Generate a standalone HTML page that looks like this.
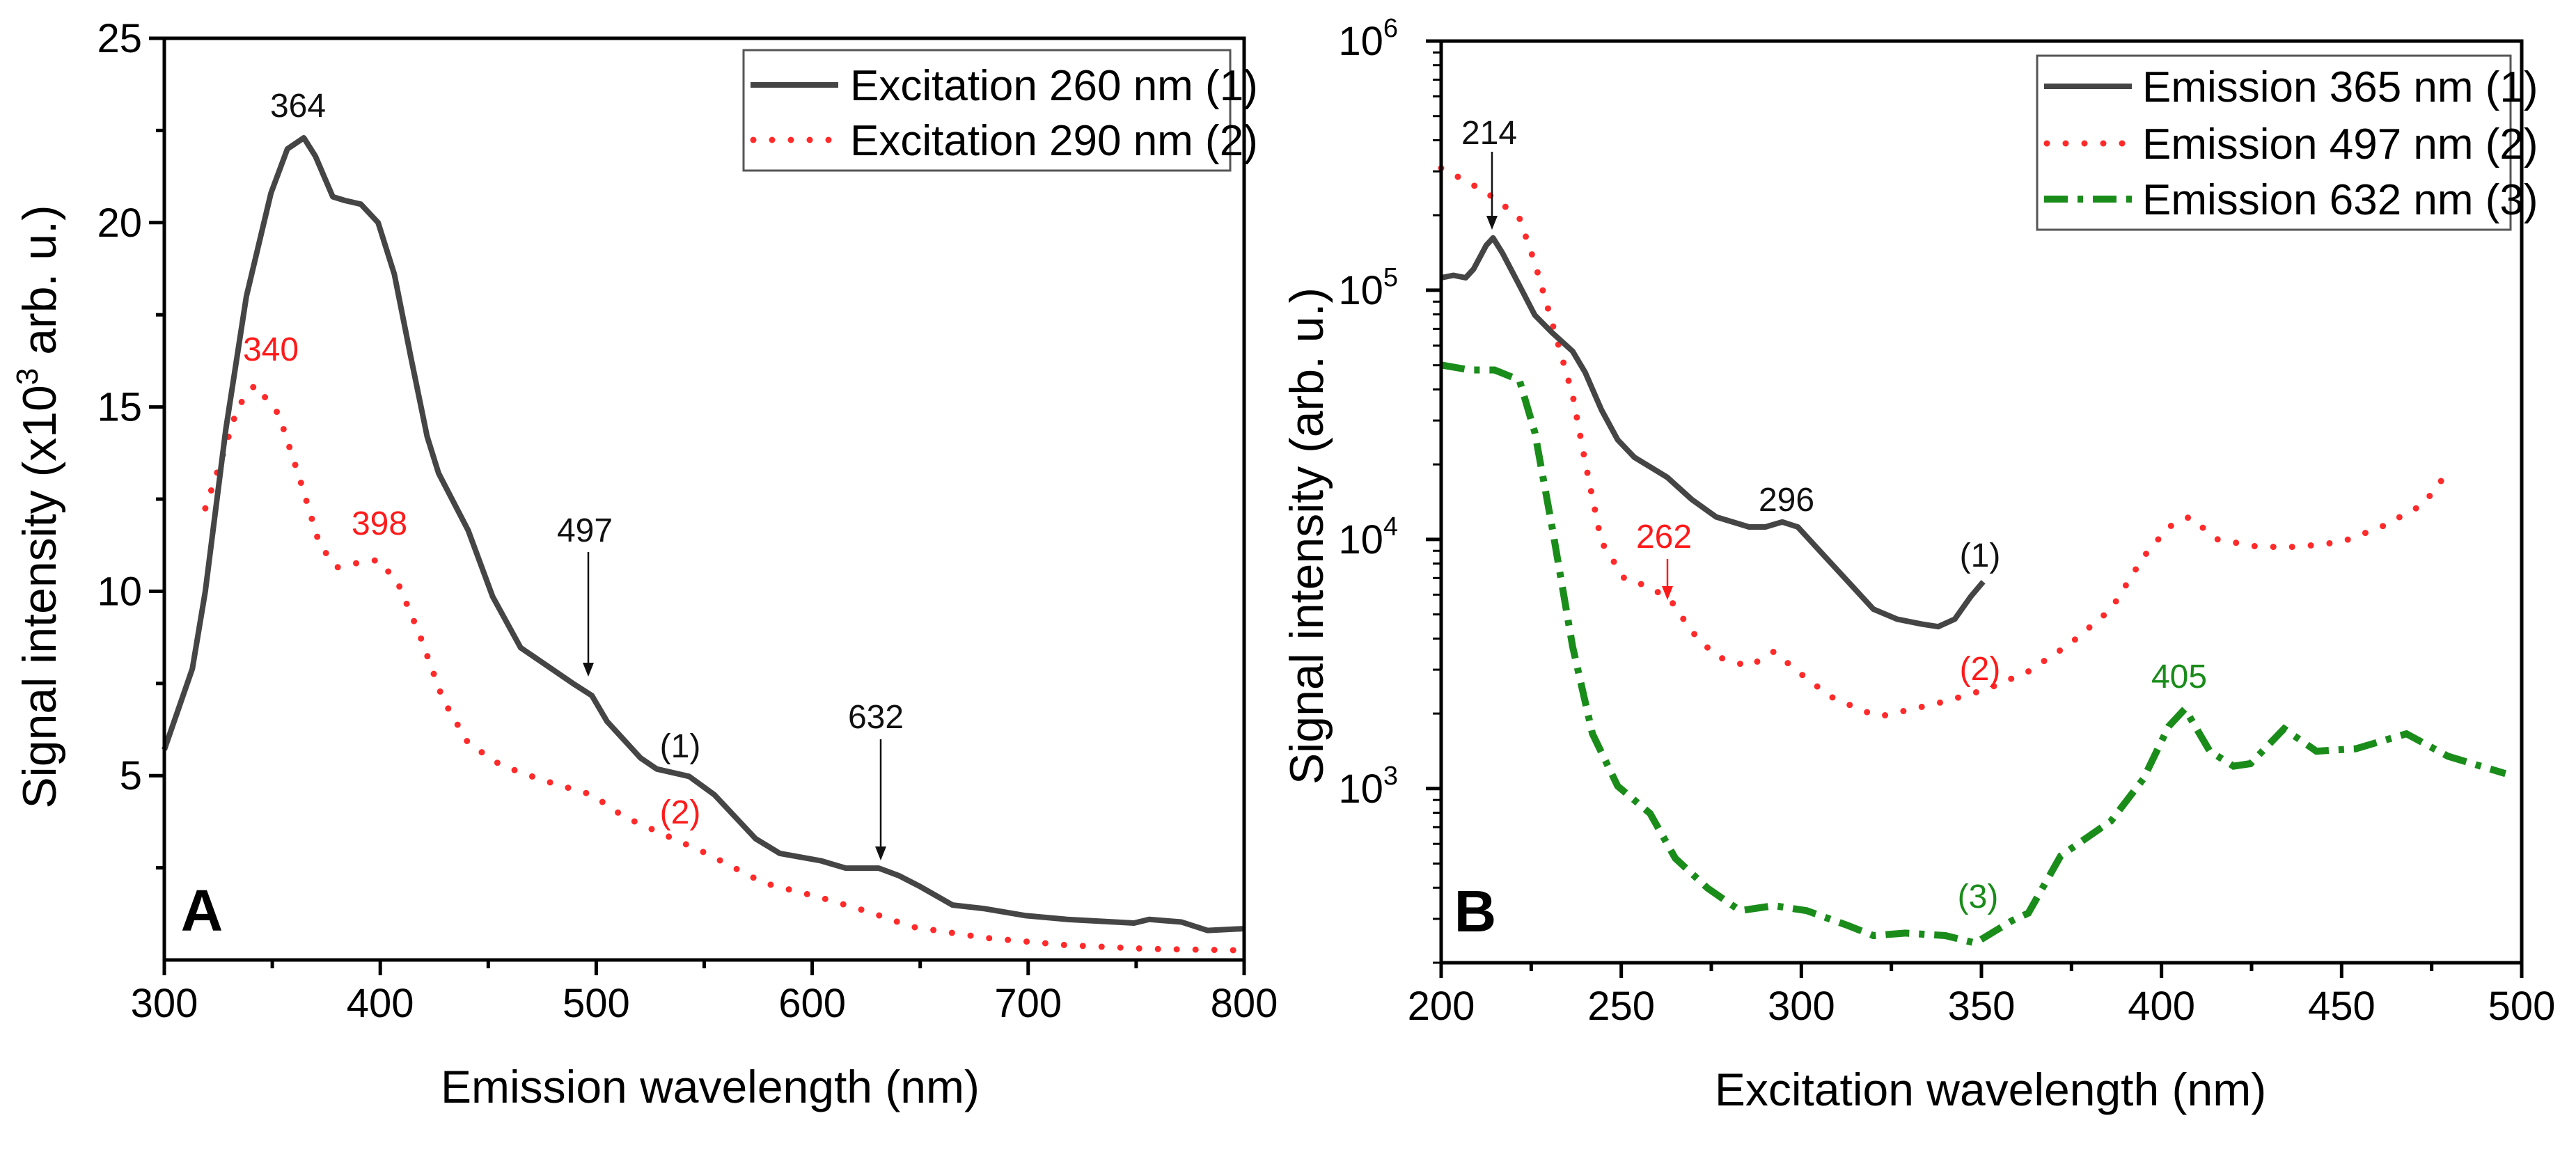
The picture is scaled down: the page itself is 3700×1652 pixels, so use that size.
<!DOCTYPE html>
<html><head><meta charset="utf-8"><style>
html,body{margin:0;padding:0;background:#fff;}
svg{display:block;font-family:"Liberation Sans",Arial,sans-serif;}
</style></head><body>
<svg id="fig" width="3700" height="1652" viewBox="0 0 3700 1652" xmlns="http://www.w3.org/2000/svg">
<g id="panelA"></g>
<g id="panelB"></g>
</svg>
<script>
// ---------- Panel A data ----------
const aX1 = [300,313,319,328.5,338,349.4,357,364.6,370,378,383.6,391,399,406.5,414,421.7,427,440.7,452,465,475,490,498,505,520.5,528,543,554.7,573.8,585,604,615.5,630.8,640,650,665,680,699,718,749,756,771,783,800];
const aY1 = [5.7,7.9,10,14.4,18,20.8,22,22.3,21.8,20.7,20.6,20.5,20,18.6,16.4,14.2,13.2,11.65,9.86,8.47,8.07,7.47,7.17,6.47,5.48,5.18,4.98,4.48,3.29,2.89,2.69,2.49,2.49,2.29,1.99,1.49,1.39,1.2,1.1,1.0,1.1,1.03,0.8,0.85];
const aX2 = [319,326.6,334,342,353,363,372,380,387.5,399,408,418,429,440.7,456,475,498,513,528,551,577.5,604,627,646,680,718,756,800];
const aY2 = [12.25,13.6,15.0,15.6,14.8,13.0,11.25,10.65,10.75,10.85,10.25,8.86,7.07,5.88,5.28,4.88,4.48,3.88,3.49,2.89,2.09,1.69,1.29,0.9,0.6,0.4,0.3,0.26];
const aXTicks = [300,400,500,600,700,800];
const aYTicks = [5,10,15,20,25];
// ---------- Panel B data ----------
const bX1 = [200,203.4,206.8,209,212.5,214.4,217,221.7,226,230.8,236.5,240,244.5,249,253.6,262.7,269.6,276.4,285.5,290,294.7,299,306,313,320,326.6,333.5,338,342.6,347,350.5];
const bY1 = [5.05,5.06,5.05,5.085,5.18,5.21,5.15,5.02,4.9,4.83,4.755,4.67,4.52,4.4,4.33,4.25,4.16,4.09,4.05,4.05,4.07,4.05,3.94,3.83,3.72,3.68,3.66,3.65,3.68,3.77,3.83];
const bX2 = [200,208,214.8,221.7,226,230.8,236.5,240,244.5,251,258,264,269.6,276.4,285.5,292.4,299,308,317.5,322,331,340,351.7,363,374.5,386,395,402,407.7,415.6,427,438,450,461,472.6,479.5];
const bY2 = [5.49,5.43,5.37,5.29,5.11,4.87,4.58,4.31,3.99,3.84,3.81,3.75,3.63,3.53,3.49,3.55,3.47,3.37,3.31,3.29,3.32,3.35,3.4,3.47,3.58,3.72,3.93,4.05,4.09,4.0,3.97,3.97,3.99,4.05,4.14,4.27];
const bX3 = [200,208,214.8,221.7,226,230.8,236.5,242,249,258,265,274,283,292.4,301.5,313,320,328.9,340,348.3,358.5,363,372,386,395,402,406.5,413.4,420,424.7,434,443,454,461,468,479.5,495.5];
const bY3 = [4.7,4.68,4.68,4.64,4.43,4.05,3.57,3.22,3.01,2.9,2.72,2.6,2.51,2.53,2.51,2.45,2.41,2.42,2.41,2.38,2.47,2.5,2.73,2.87,3.04,3.25,3.32,3.15,3.09,3.1,3.24,3.15,3.16,3.19,3.22,3.13,3.06];
const bXTicks = [200,250,300,350,400,450,500];
const bYTicks = [3,4,5,6];

const NS="http://www.w3.org/2000/svg";
function mk(parent,tag,attrs,text){const e=document.createElementNS(NS,tag);for(const k in attrs)e.setAttribute(k,attrs[k]);if(text!==undefined)e.textContent=text;parent.appendChild(e);return e;}

// axes geometry
const A={x0:236,x1:1787,y0:1379,y1:55,xmin:300,xmax:800,ymin:0,ymax:25};
const B={x0:2070,x1:3622,y0:1383,y1:59,xmin:200,xmax:500,ymin:Math.log10(200),ymax:6};
function ax(v){return A.x0+(v-A.xmin)/(A.xmax-A.xmin)*(A.x1-A.x0);}
function ay(v){return A.y0-(v-A.ymin)/(A.ymax-A.ymin)*(A.y0-A.y1);}
function bx(v){return B.x0+(v-B.xmin)/(B.xmax-B.xmin)*(B.x1-B.x0);}
function by(lv){return B.y0-(lv-B.ymin)/(B.ymax-B.ymin)*(B.y0-B.y1);}
function pathD(xs,ys,fx,fy){return xs.map((x,i)=>(i?'L':'M')+fx(x).toFixed(1)+' '+fy(ys[i]).toFixed(1)).join(' ');}

// ---------- Panel A ----------
const gA=document.getElementById('panelA');
let s1=mk(gA,'path',{d:pathD(aX2,aY2,ax,ay),fill:'none',stroke:'#ff2a2a','stroke-width':9,'stroke-linecap':'round','stroke-dasharray':'0 27'});


let s2=mk(gA,'path',{d:pathD(aX1,aY1,ax,ay),fill:'none',stroke:'#454545','stroke-width':8,'stroke-linejoin':'round'});


let frA=mk(gA,'rect',{x:A.x0,y:A.y1,width:A.x1-A.x0,height:A.y0-A.y1,fill:'none',stroke:'#000','stroke-width':5});


for(let v=300;v<=800;v+=50){const major=aXTicks.includes(v);
 const t=mk(gA,'line',{x1:ax(v),x2:ax(v),y1:A.y0,y2:A.y0+(major?22:12),stroke:'#000','stroke-width':5});
 
 }
aXTicks.forEach(v=>{const t=mk(gA,'text',{x:ax(v),y:A.y0+82,'font-size':58,'text-anchor':'middle'},String(v));
 
 });
for(let v=2.5;v<=25;v+=2.5){const major=aYTicks.includes(v);
 const t=mk(gA,'line',{x1:A.x0,x2:A.x0-(major?22:12),y1:ay(v),y2:ay(v),stroke:'#000','stroke-width':5});
 
 }
aYTicks.forEach(v=>{const t=mk(gA,'text',{x:A.x0-32,y:ay(v)+20,'font-size':58,'text-anchor':'end'},String(v));
 
 });
let xtA=mk(gA,'text',{x:1020,y:1584,'font-size':66,'text-anchor':'middle'},'Emission wavelength (nm)');


let ytA=mk(gA,'text',{x:0,y:0,'font-size':68,'text-anchor':'middle',transform:'translate(80,728) rotate(-90)'});


ytA.innerHTML='Signal intensity (x10<tspan font-size="44" dy="-26">3</tspan><tspan dy="26"> arb. u.)</tspan>';
function label(g,x,y,txt,col,size,name,bold){const t=mk(g,'text',{x:x,y:y,'font-size':size,'text-anchor':'middle',fill:col,'font-weight':bold?'bold':'normal'},txt);
 
 return t;}
function arrow(g,x,yA,yB,col,name){const l=mk(g,'line',{x1:x,x2:x,y1:yA,y2:yB-14,stroke:col,'stroke-width':2.5});
 
 
 const p=mk(g,'polygon',{points:`${x-8},${yB-20} ${x+8},${yB-20} ${x},${yB}`,fill:col});
 
 }
label(gA,428,168,'364','#111',48,'peak-label-364');
label(gA,389,518,'340','#ff1a1a',48,'peak-label-340');
label(gA,545,768,'398','#ff1a1a',48,'peak-label-398');
label(gA,840,778,'497','#111',48,'peak-label-497');
arrow(gA,845,793,972,'#111','arrow-497');
label(gA,1258,1046,'632','#111',48,'peak-label-632');
arrow(gA,1265,1062,1236,'#111','arrow-632');
label(gA,977,1088,'(1)','#111',48,'curve-label-1-a');
label(gA,977,1183,'(2)','#ff1a1a',48,'curve-label-2-a');
label(gA,290,1337,'A','#000',84,'panel-label-a',true);
// legend A
let lgA=mk(gA,'rect',{x:1068,y:72,width:699,height:173,fill:'#fff',stroke:'#555','stroke-width':3});


let la1=mk(gA,'line',{x1:1078,x2:1204,y1:122,y2:122,stroke:'#454545','stroke-width':8});


let la2=mk(gA,'line',{x1:1082,x2:1204,y1:201,y2:201,stroke:'#ff2a2a','stroke-width':9,'stroke-linecap':'round','stroke-dasharray':'0 27'});


let lt1=mk(gA,'text',{x:1221,y:144,'font-size':62},'Excitation 260 nm (1)');


let lt2=mk(gA,'text',{x:1221,y:223,'font-size':62},'Excitation 290 nm (2)');



// ---------- Panel B ----------
const gB=document.getElementById('panelB');
let c3=mk(gB,'path',{d:pathD(bX3,bY3,bx,by),fill:'none',stroke:'#1a8c1a','stroke-width':10,'stroke-dasharray':'34 14 8 14'});


let c2=mk(gB,'path',{d:pathD(bX2,bY2,bx,by),fill:'none',stroke:'#ff2a2a','stroke-width':9,'stroke-linecap':'round','stroke-dasharray':'0 27'});


let c1=mk(gB,'path',{d:pathD(bX1,bY1,bx,by),fill:'none',stroke:'#454545','stroke-width':8,'stroke-linejoin':'round'});


let frB=mk(gB,'rect',{x:B.x0,y:B.y1,width:B.x1-B.x0,height:B.y0-B.y1,fill:'none',stroke:'#000','stroke-width':5});


for(let v=200;v<=500;v+=25){const major=bXTicks.includes(v);
 const t=mk(gB,'line',{x1:bx(v),x2:bx(v),y1:B.y0,y2:B.y0+(major?22:12),stroke:'#000','stroke-width':5});
 
 }
bXTicks.forEach(v=>{const t=mk(gB,'text',{x:bx(v),y:B.y0+82,'font-size':58,'text-anchor':'middle'},String(v));
 
 });
for(let d=2;d<=5;d++){for(let m=1;m<=9;m++){const lv=d+Math.log10(m);if(lv<B.ymin-1e-6||lv>6)continue;
 const t=mk(gB,'line',{x1:B.x0,x2:B.x0-(m===1?22:12),y1:by(lv),y2:by(lv),stroke:'#000','stroke-width':m===1?5:3});
 
 }}
let t6=mk(gB,'line',{x1:B.x0,x2:B.x0-22,y1:by(6),y2:by(6),stroke:'#000','stroke-width':5});


bYTicks.forEach(v=>{const t=mk(gB,'text',{x:B.x0-62,y:by(v)+20,'font-size':58,'text-anchor':'end'});
 
 
 t.innerHTML='10<tspan font-size="38" dy="-26">'+v+'</tspan>';});
let xtB=mk(gB,'text',{x:2859,y:1588,'font-size':66,'text-anchor':'middle'},'Excitation wavelength (nm)');


let ytB=mk(gB,'text',{x:0,y:0,'font-size':68,'text-anchor':'middle',transform:'translate(1900,770) rotate(-90)'},'Signal intensity (arb. u.)');


label(gB,2139,207,'214','#111',48,'peak-label-214');
arrow(gB,2143,218,330,'#111','arrow-214');
label(gB,2566,734,'296','#111',48,'peak-label-296');
label(gB,2390,787,'262','#ff1a1a',48,'peak-label-262');
arrow(gB,2395,803,862,'#ff1a1a','arrow-262');
label(gB,2844,814,'(1)','#111',48,'curve-label-1-b');
label(gB,2844,977,'(2)','#ff1a1a',48,'curve-label-2-b');
label(gB,3130,988,'405','#1a8c1a',48,'peak-label-405');
label(gB,2841,1304,'(3)','#1a8c1a',48,'curve-label-3-b');
label(gB,2119,1338,'B','#000',84,'panel-label-b',true);
let lgB=mk(gB,'rect',{x:2926,y:80,width:680,height:250,fill:'#fff',stroke:'#555','stroke-width':3});


let lb1=mk(gB,'line',{x1:2936,x2:3062,y1:124,y2:124,stroke:'#454545','stroke-width':8});


let lb2=mk(gB,'line',{x1:2940,x2:3062,y1:206,y2:206,stroke:'#ff2a2a','stroke-width':9,'stroke-linecap':'round','stroke-dasharray':'0 27'});


let lb3=mk(gB,'line',{x1:2936,x2:3062,y1:286,y2:286,stroke:'#1a8c1a','stroke-width':10,'stroke-dasharray':'34 14 8 14'});


[['Emission 365 nm (1)',146,'legend-entry-365'],['Emission 497 nm (2)',228,'legend-entry-497'],['Emission 632 nm (3)',308,'legend-entry-632']].forEach(r=>{
 const t=mk(gB,'text',{x:3077,y:r[1],'font-size':62},r[0]);
 
 });
</script>
</body></html>
